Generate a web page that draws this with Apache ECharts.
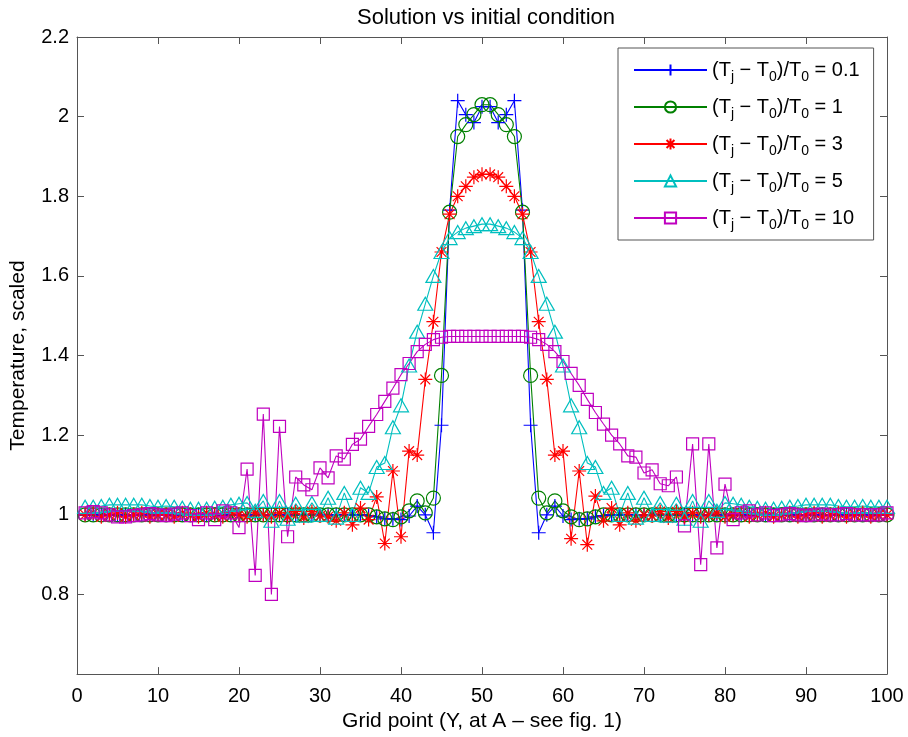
<!DOCTYPE html>
<html>
<head>
<meta charset="utf-8">
<script src="https://cdn.jsdelivr.net/npm/echarts/dist/echarts.min.js"></script>
<style>
html,body{margin:0;padding:0;background:#fff}
#main{width:908px;height:737px}
</style>
</head>
<body>
<div id="main"></div>
<script>
// grid points 1..100
var xs = [];
for (var i = 1; i <= 100; i++) xs.push(i);

// ratio labels used in the legend
var ratios = ['0.1', '1', '3', '5', '10'];

var t01 = [
  1.00, 1.00, 1.00, 1.00, 1.00, 1.00, 1.00, 1.00, 1.00, 1.00,
  1.00, 1.00, 1.00, 1.00, 1.00, 1.00, 1.00, 1.00, 1.00, 1.00,
  1.00, 1.00, 1.00, 1.00, 1.00, 1.00, 1.00, 1.00, 1.00, 1.00,
  1.00, 1.00, 1.00, 1.00, 1.00, 0.998, 0.995, 0.99, 0.99, 0.988,
  0.997, 1.022, 1.00, 0.955, 1.225, 1.765, 2.04, 2.005, 1.985, 2.025,
  2.025, 1.985, 2.005, 2.04, 1.765, 1.225, 0.955, 1.00, 1.022, 0.997,
  0.988, 0.99, 0.99, 0.995, 0.998, 1.00, 1.00, 1.00, 1.00, 1.00,
  1.00, 1.00, 1.00, 1.00, 1.00, 1.00, 1.00, 1.00, 1.00, 1.00,
  1.00, 1.00, 1.00, 1.00, 1.00, 1.00, 1.00, 1.00, 1.00, 1.00,
  1.00, 1.00, 1.00, 1.00, 1.00, 1.00, 1.00, 1.00, 1.00, 1.00
];
var t1 = [
  1.00, 1.00, 1.00, 1.00, 1.00, 1.00, 1.00, 1.00, 1.00, 1.00,
  1.00, 1.00, 1.00, 1.00, 1.00, 1.00, 1.00, 1.00, 1.00, 1.00,
  1.00, 1.00, 1.00, 1.00, 1.00, 1.00, 1.00, 1.00, 1.00, 1.00,
  1.00, 1.00, 1.00, 1.00, 1.00, 1.00, 0.995, 0.99, 0.988, 0.995,
  1.01, 1.035, 1.005, 1.042, 1.35, 1.76, 1.95, 1.98, 2.005, 2.03,
  2.03, 2.005, 1.98, 1.95, 1.76, 1.35, 1.042, 1.005, 1.035, 1.01,
  0.995, 0.988, 0.99, 0.995, 1.00, 1.00, 1.00, 1.00, 1.00, 1.00,
  1.00, 1.00, 1.00, 1.00, 1.00, 1.00, 1.00, 1.00, 1.00, 1.00,
  1.00, 1.00, 1.00, 1.00, 1.00, 1.00, 1.00, 1.00, 1.00, 1.00,
  1.00, 1.00, 1.00, 1.00, 1.00, 1.00, 1.00, 1.00, 1.00, 1.00
];
var t3 = [
  1.00, 1.005, 0.995, 1.00, 1.005, 0.995, 1.00, 1.005, 0.995, 1.00,
  1.00, 0.995, 1.005, 1.00, 0.995, 1.005, 1.00, 0.995, 1.005, 1.00,
  0.995, 1.005, 1.00, 0.995, 1.005, 0.995, 1.008, 0.992, 1.008, 0.997,
  0.995, 0.985, 1.005, 0.975, 1.017, 0.988, 1.045, 0.928, 1.11, 0.945,
  1.16, 1.15, 1.34, 1.485, 1.66, 1.755, 1.80, 1.825, 1.848, 1.855,
  1.855, 1.848, 1.825, 1.80, 1.755, 1.66, 1.485, 1.34, 1.15, 1.16,
  0.94, 1.11, 0.925, 1.047, 0.985, 1.017, 0.975, 1.005, 0.985, 1.00,
  0.997, 1.008, 0.992, 1.008, 0.995, 1.005, 0.995, 1.00, 1.005, 0.995,
  1.00, 1.005, 0.995, 1.00, 1.005, 0.995, 1.00, 1.005, 0.995, 1.00,
  1.005, 0.995, 1.00, 1.005, 0.995, 1.00, 1.005, 0.995, 1.00, 1.00
];
var t5 = [
  1.02, 1.02, 1.022, 1.025, 1.025, 1.025, 1.025, 1.025, 1.022, 1.02,
  1.022, 1.02, 1.018, 1.015, 1.015, 1.015, 1.018, 1.02, 1.025, 1.028,
  1.03, 1.01, 1.035, 0.985, 1.035, 0.99, 1.028, 0.998, 1.03, 1.0,
  1.043, 0.993, 1.055, 1.0, 1.068, 1.055, 1.12, 1.13, 1.22, 1.275,
  1.375, 1.46, 1.53, 1.60, 1.66, 1.695, 1.71, 1.72, 1.725, 1.73,
  1.73, 1.725, 1.72, 1.71, 1.695, 1.66, 1.60, 1.53, 1.46, 1.375,
  1.275, 1.22, 1.13, 1.12, 1.055, 1.068, 1.0, 1.055, 0.993, 1.043,
  1.0, 1.03, 0.998, 1.028, 0.99, 1.035, 0.985, 1.035, 1.01, 1.03,
  1.028, 1.025, 1.02, 1.018, 1.015, 1.015, 1.018, 1.02, 1.022, 1.025,
  1.025, 1.025, 1.025, 1.022, 1.02, 1.02, 1.022, 1.02, 1.02, 1.02
];
var t10 = [
  1.005, 1.008, 1.005, 1.00, 0.995, 0.995, 0.998, 1.00, 1.003, 1.00,
  0.998, 1.002, 1.005, 0.998, 0.988, 1.005, 0.988, 1.01, 1.005, 0.968,
  1.115, 0.848, 1.253, 0.80, 1.222, 0.945, 1.095, 1.075, 1.063, 1.118,
  1.093, 1.148, 1.14, 1.177, 1.19, 1.222, 1.252, 1.285, 1.318, 1.352,
  1.38, 1.41, 1.428, 1.44, 1.446, 1.448, 1.448, 1.448, 1.448, 1.448,
  1.448, 1.448, 1.448, 1.448, 1.448, 1.446, 1.44, 1.428, 1.41, 1.385,
  1.355, 1.325, 1.29, 1.257, 1.228, 1.20, 1.178, 1.148, 1.145, 1.105,
  1.113, 1.078, 1.073, 1.095, 0.972, 1.178, 0.875, 1.178, 0.917, 1.077,
  0.988, 1.005, 1.01, 1.00, 1.005, 0.998, 1.00, 1.003, 1.00, 0.998,
  1.00, 1.002, 1.00, 1.00, 1.003, 1.00, 1.00, 1.00, 1.00, 1.005
];

var xTicks = [0, 10, 20, 30, 40, 50, 60, 70, 80, 90, 100];
var yTicks = [0.6, 0.8, 1, 1.2, 1.4, 1.6, 1.8, 2, 2.2];

var font = 'Liberation Sans, Arial, Helvetica, sans-serif';
var axisCol = '#555';

// matlab-ish marker paths
var plusPath = 'path://M6,0L6,12M0,6L12,6';
var starPath = 'path://M6,0L6,12M0,6L12,6M1.8,1.8L10.2,10.2M10.2,1.8L1.8,10.2';

function pairs(ys) {
  var out = [];
  for (var i = 0; i < xs.length; i++) out.push([xs[i], ys[i]]);
  return out;
}

function mkSeries(name, ys, color, symbol, size) {
  return {
    name: name,
    type: 'line',
    data: pairs(ys),
    symbol: symbol,
    symbolSize: size,
    showAllSymbol: true,
    silent: true,
    lineStyle: {color: color, width: 1.1},
    itemStyle: {color: 'none', borderColor: color, borderWidth: 1.2}
  };
}

function baseAxis(pos, isX, showLabel) {
  var ticks = isX ? xTicks : yTicks;
  return {
    type: 'value',
    position: pos,
    min: ticks[0],
    max: ticks[ticks.length - 1],
    interval: isX ? 10 : 0.2,
    splitLine: {show: false},
    axisLine: {show: true, onZero: false, lineStyle: {color: axisCol, width: 1}},
    axisTick: {show: true, inside: true, length: 7, lineStyle: {color: axisCol}},
    axisLabel: {
      show: showLabel,
      color: '#000',
      fontSize: 20,
      fontFamily: font,
      margin: isX ? 12 : 8,
      formatter: function (v) {
        if (!isX && Math.abs(v - 0.6) < 1e-6) return '';
        return String(+(+v).toFixed(1));
      }
    }
  };
}

var chart = echarts.init(document.getElementById('main'));

var xMain = baseAxis('bottom', true, true);
xMain.name = 'Grid point (Y, at A \u2013 see fig. 1)';
xMain.nameLocation = 'middle';
xMain.nameGap = 31;
xMain.nameTextStyle = {color: '#000', fontSize: 21, fontFamily: font};

var yMain = baseAxis('left', false, true);
yMain.name = 'Temperature, scaled';
yMain.nameLocation = 'middle';
yMain.nameGap = 48;
yMain.nameTextStyle = {color: '#000', fontSize: 21, fontFamily: font};

var option = {
  animation: false,
  backgroundColor: '#fff',
  title: {
    text: 'Solution vs initial condition',
    left: 481,
    top: 2,
    textAlign: 'center',
    textStyle: {color: '#000', fontSize: 22, fontWeight: 'normal', fontFamily: font}
  },
  grid: {left: 76, right: 21, top: 37, bottom: 61},
  legend: {
    orient: 'vertical',
    left: 618,
    top: 48,
    padding: [8, 14, 8, 15],
    itemWidth: 73,
    itemHeight: 14,
    itemGap: 9,
    borderColor: axisCol,
    borderWidth: 1,
    backgroundColor: '#fff',
    selectedMode: false,
    textStyle: {
      color: '#000',
      fontSize: 20,
      fontFamily: font,
      lineHeight: 28,
      rich: {
        sub: {fontSize: 14, lineHeight: 14, verticalAlign: 'bottom', color: '#000', fontFamily: font}
      }
    },
    formatter: function (name) {
      return '(T{sub|j} \u2212 T{sub|0})/T{sub|0} = ' + name;
    },
    data: ratios
  },
  xAxis: [xMain, baseAxis('top', true, false)],
  yAxis: [yMain, baseAxis('right', false, false)],
  series: [
    mkSeries(ratios[0], t01, '#0000ff', plusPath, 14),
    mkSeries(ratios[1], t1, '#008000', 'circle', 14),
    mkSeries(ratios[2], t3, '#ff0000', starPath, 14),
    mkSeries(ratios[3], t5, '#00bfbf', 'triangle', [15, 13]),
    mkSeries(ratios[4], t10, '#bf00bf', 'rect', 12)
  ]
};
chart.setOption(option);
</script>
</body>
</html>
